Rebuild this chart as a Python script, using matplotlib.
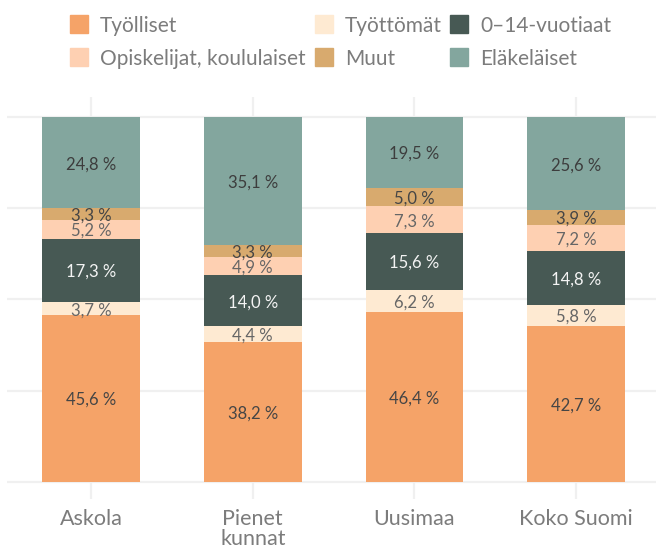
import numpy as np
import matplotlib
matplotlib.use("Agg")
import matplotlib.pyplot as plt
from matplotlib.patches import Rectangle

plt.rcParams['font.family'] = ['Lato', 'DejaVu Sans']

categories = ["Askola", "Pienet\nkunnat", "Uusimaa", "Koko Suomi"]
series = ["Työlliset", "Työttömät", "0–14-vuotiaat",
          "Opiskelijat, koululaiset", "Muut", "Eläkeläiset"]
tyolliset = [45.6, 38.2, 46.4, 42.7]
tyottomat = [3.7, 4.4, 6.2, 5.8]
lapset = [17.3, 14.0, 15.6, 14.8]
opiskelijat = [5.2, 4.9, 7.3, 7.2]
muut = [3.3, 3.3, 5.0, 3.9]
elakelaiset = [24.8, 35.1, 19.5, 25.6]

values = [tyolliset, tyottomat, lapset, opiskelijat, muut, elakelaiset]
colors = ["#F5A368", "#FEEAD2", "#475954", "#FED0B2", "#D8AA6E", "#83A69E"]
label_colors = ["#454545", "#666666", "#F4F4F4", "#666666", "#454545", "#3d3d3d"]

W, H = 656, 548
fig = plt.figure(figsize=(W / 100, H / 100), dpi=100)
ax = fig.add_axes([7 / W, 49 / H, 650 / W, 402 / H])

x = np.arange(len(categories))
bottom = np.zeros(len(categories))
for vals, col, lcol in zip(values, colors, label_colors):
    vals = np.array(vals)
    ax.bar(x, vals, 0.605, bottom=bottom, color=col, zorder=3)
    for xi, b, v in zip(x, bottom, vals):
        ax.text(xi, b + v / 2, f"{v:.1f} %".replace(".", ","), ha='center', va='center_baseline',
                fontsize=12, color=lcol, zorder=4)
    bottom += vals

for xi in x:
    ax.axvline(xi, color='#F0F0F0', lw=1.6, zorder=1)
for yv in [0, 25, 50, 75, 100]:
    ax.axhline(yv, color='#F0F0F0', lw=1.6, zorder=1)

ax.set_xlim(-0.52, 3.5)
ax.set_ylim(-4.75, 105.5)
ax.set_yticks([])
ax.set_xticks(x)
ax.set_xticklabels(categories, fontsize=15.5, color='#7c7c7c', linespacing=1.0)
ax.tick_params(axis='x', length=0, pad=7)
for s in ax.spines.values():
    s.set_visible(False)

# legend, 3 columns x 2 rows
col_x = [70, 315, 450]
row_y = [15, 48]
for i, (name, col) in enumerate(zip(series, colors)):
    r, c = divmod(i, 3)
    fig.patches.append(Rectangle((col_x[c] / W, 1 - (row_y[r] + 18) / H), 18 / W, 18 / H,
                                 transform=fig.transFigure, color=col, figure=fig))
    fig.text((col_x[c] + 30) / W, 1 - (row_y[r] + 17.3) / H, name, fontsize=15,
             color='#7c7c7c', va='baseline', ha='left')

fig.savefig("out.png", dpi=100)
